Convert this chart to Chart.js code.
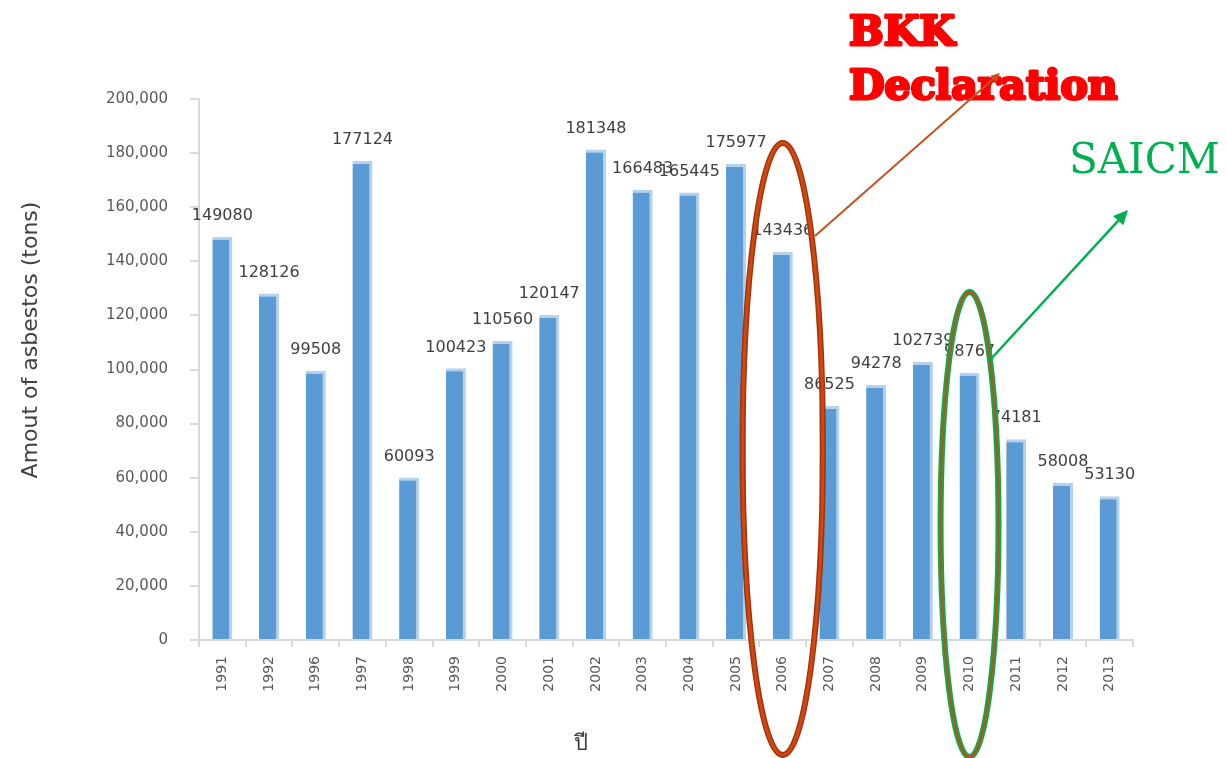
<!DOCTYPE html>
<html>
<head>
<meta charset="utf-8">
<script src="https://cdn.jsdelivr.net/npm/chart.js@4/dist/chart.umd.min.js"></script>
<style>
  html, body { margin: 0; padding: 0; background: #fff; }
  #wrap { width: 1227px; height: 758px; position: relative; }
</style>
</head>
<body>
<div id="wrap"><canvas id="chart"></canvas></div>
<script>
// years as they appear on the axis
var years = ['1991', '1992', '1996', '1997', '1998', '1999', '2000', '2001', '2002', '2003',
             '2004', '2005', '2006', '2007', '2008', '2009', '2010', '2011', '2012', '2013'];
// amount of asbestos (tons)
var amounts = [149080, 128126, 99508, 177124, 60093, 100423, 110560, 120147, 181348, 166483,
               165445, 175977, 143436, 86525, 94278, 102739, 98767, 74181, 58008, 53130];
var yTicks = [0, 20000, 40000, 60000, 80000, 100000, 120000, 140000, 160000, 180000, 200000];

// value labels over each bar
var barLabels = {
    id: 'barLabels',
    afterDatasetsDraw: function (chart) {
        var ctx = chart.ctx;
        var meta = chart.getDatasetMeta(0);
        ctx.save();
        ctx.font = '16px "DejaVu Sans"';
        ctx.fillStyle = '#404040';
        ctx.textAlign = 'center';
        ctx.textBaseline = 'middle';
        meta.data.forEach(function (bar, i) {
            ctx.fillText(String(amounts[i]), bar.x, bar.y - 21);
        });
        ctx.restore();
    }
};

// axis titles (placed off-centre like the original)
var axisTitles = {
    id: 'axisTitles',
    afterDraw: function (chart) {
        var ctx = chart.ctx;
        ctx.save();
        ctx.fillStyle = '#404040';
        ctx.textAlign = 'center';
        ctx.textBaseline = 'middle';
        ctx.font = '22px "DejaVu Sans"';
        ctx.translate(31, 340);
        ctx.rotate(-Math.PI / 2);
        ctx.fillText('Amout of asbestos (tons)', 0, 0);
        ctx.restore();

        ctx.save();
        ctx.fillStyle = '#404040';
        ctx.textAlign = 'center';
        ctx.textBaseline = 'middle';
        ctx.font = '22px "Noto Sans", "DejaVu Sans", sans-serif';
        ctx.fillText('ปี', 581, 744);
        ctx.restore();
    }
};

function arrow(ctx, x1, y1, x2, y2, color, width, head) {
    var a = Math.atan2(y2 - y1, x2 - x1);
    ctx.strokeStyle = color;
    ctx.fillStyle = color;
    ctx.lineWidth = width;
    ctx.beginPath();
    ctx.moveTo(x1, y1);
    ctx.lineTo(x2 - Math.cos(a) * head * 0.6, y2 - Math.sin(a) * head * 0.6);
    ctx.stroke();
    ctx.beginPath();
    ctx.moveTo(x2, y2);
    ctx.lineTo(x2 - head * Math.cos(a - 0.45), y2 - head * Math.sin(a - 0.45));
    ctx.lineTo(x2 - head * Math.cos(a + 0.45), y2 - head * Math.sin(a + 0.45));
    ctx.closePath();
    ctx.fill();
}

// circled years + callouts
var callouts = {
    id: 'callouts',
    afterDraw: function (chart) {
        var ctx = chart.ctx;
        var xs = chart.scales.x, ys = chart.scales.y;
        var step = xs.getPixelForValue(1) - xs.getPixelForValue(0);

        ctx.save();
        // BKK Declaration text (heavy slab look)
        ctx.fillStyle = '#ff0000';
        ctx.strokeStyle = '#ff0000';
        ctx.lineWidth = 3;
        ctx.lineJoin = 'round';
        ctx.font = 'bold 41px "DejaVu Serif"';
        ctx.textBaseline = 'alphabetic';
        ctx.fillText('BKK', 849, 45);
        ctx.strokeText('BKK', 849, 45);
        ctx.fillText('Declaration', 849, 99);
        ctx.strokeText('Declaration', 849, 99);
        // SAICM text
        ctx.fillStyle = '#00b050';
        ctx.font = '42px "DejaVu Serif"';
        ctx.fillText('SAICM', 1069, 173);

        // red ellipse around 2006
        var top = ys.getPixelForValue(183700), bot = ys.getPixelForValue(-42500);
        var cx = xs.getPixelForValue(12);
        ctx.beginPath();
        ctx.ellipse(cx, (top + bot) / 2, step * 0.86, (bot - top) / 2, 0, 0, Math.PI * 2);
        ctx.lineWidth = 6;
        ctx.strokeStyle = '#a3330c';
        ctx.stroke();
        ctx.lineWidth = 3;
        ctx.strokeStyle = '#d2470f';
        ctx.stroke();

        // green ellipse around 2010
        top = ys.getPixelForValue(128650);
        bot = ys.getPixelForValue(-43250);
        cx = xs.getPixelForValue(16);
        ctx.beginPath();
        ctx.ellipse(cx, (top + bot) / 2, step * 0.62, (bot - top) / 2, 0, 0, Math.PI * 2);
        ctx.lineWidth = 6;
        ctx.strokeStyle = '#00b050';
        ctx.stroke();
        ctx.lineWidth = 2;
        ctx.strokeStyle = '#d2470f';
        ctx.stroke();

        arrow(ctx, 815, 236, 1000, 73, '#c8501c', 2, 10);
        arrow(ctx, 990, 360, 1128, 210, '#00b050', 2.5, 16);
        ctx.restore();
    }
};

new Chart(document.getElementById('chart'), {
    type: 'bar',
    data: {
        labels: years,
        datasets: [{
            data: amounts,
            backgroundColor: '#5b9bd5',
            borderColor: '#b4d1ee',
            borderWidth: { top: 3, right: 3, left: 0, bottom: 0 },
            borderSkipped: false,
            categoryPercentage: 1,
            barPercentage: 0.43
        }]
    },
    options: {
        responsive: true,
        maintainAspectRatio: false,
        animation: false,
        layout: { padding: { top: 99, right: 94, left: 0, bottom: 0 } },
        plugins: { legend: { display: false }, tooltip: { enabled: false } },
        scales: {
            x: {
                afterFit: function (s) { s.height = 118; },
                grid: { drawOnChartArea: false, drawTicks: true, tickLength: 7, color: '#d9d9d9', lineWidth: 2 },
                border: { color: '#d9d9d9', width: 2 },
                ticks: {
                    minRotation: 90, maxRotation: 90, autoSkip: false, padding: 9,
                    color: '#595959', font: { family: 'DejaVu Sans', size: 14 }
                }
            },
            y: {
                min: 0, max: 200000,
                afterFit: function (s) { s.width = 199; },
                afterBuildTicks: function (s) { s.ticks = yTicks.map(function (v) { return { value: v }; }); },
                grid: { drawOnChartArea: false, drawTicks: true, tickLength: 9, color: '#d9d9d9', lineWidth: 2 },
                border: { color: '#d9d9d9', width: 2 },
                ticks: {
                    padding: 22, color: '#595959',
                    font: { family: 'DejaVu Sans', size: 15 },
                    callback: function (v) { return v.toLocaleString('en-US'); }
                }
            }
        }
    },
    plugins: [barLabels, axisTitles, callouts]
});
</script>
</body>
</html>
